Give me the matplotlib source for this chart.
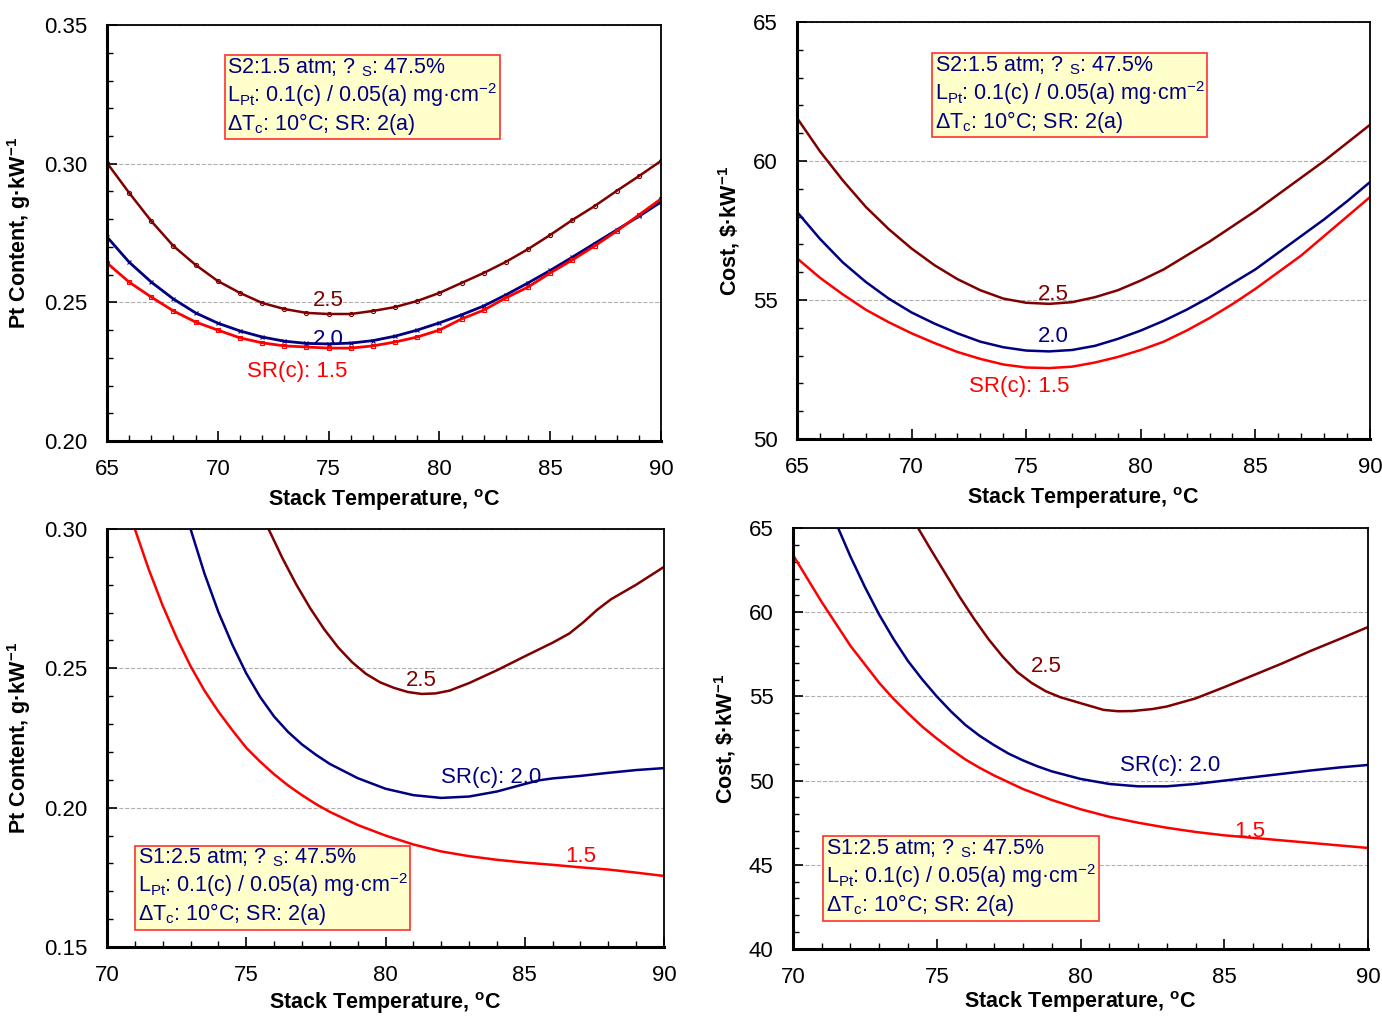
import numpy as np
import matplotlib.pyplot as plt
from matplotlib.ticker import MultipleLocator, FormatStrFormatter

plt.rcParams['font.family'] = ['Liberation Sans', 'DejaVu Sans']
plt.rcParams['mathtext.default'] = 'regular'

DARK = '#800000'
BLUE = '#000080'
RED = '#ff0000'

# --- top left: Pt content, S2 (data points at every degree)
tl_temp = list(range(65, 91))
tl_sr25 = [0.3003, 0.2895, 0.2793, 0.2703, 0.2635, 0.2577, 0.2534, 0.2498, 0.2476,
           0.2462, 0.2458, 0.2458, 0.2469, 0.2483, 0.2505, 0.2534, 0.2570, 0.2606,
           0.2646, 0.2692, 0.2743, 0.2797, 0.2847, 0.2902, 0.2955, 0.3010]
tl_sr20 = [0.2736, 0.2645, 0.2573, 0.2512, 0.2462, 0.2425, 0.2397, 0.2375, 0.2360,
           0.2352, 0.2350, 0.2353, 0.2362, 0.2378, 0.2400, 0.2426, 0.2455, 0.2487,
           0.2527, 0.2570, 0.2615, 0.2663, 0.2712, 0.2761, 0.2810, 0.2862]
tl_sr15 = [0.2642, 0.2573, 0.2519, 0.2469, 0.2429, 0.2400, 0.2372, 0.2354, 0.2343,
           0.2339, 0.2335, 0.2335, 0.2343, 0.2357, 0.2375, 0.2400, 0.2440, 0.2472,
           0.2516, 0.2555, 0.2606, 0.2653, 0.2703, 0.2757, 0.2815, 0.2873]

# --- top right: cost, S2
tr_temp = list(range(65, 91))
tr_sr25 = [61.55, 60.35, 59.3, 58.35, 57.55, 56.85, 56.25, 55.75, 55.35, 55.05, 54.9, 54.86,
           54.92, 55.1, 55.35, 55.7, 56.1, 56.6, 57.1, 57.65, 58.2, 58.8, 59.4, 60.0,
           60.65, 61.3]
tr_sr20 = [58.17, 57.2, 56.35, 55.65, 55.05, 54.55, 54.15, 53.8, 53.5, 53.3, 53.18, 53.15,
           53.2, 53.35, 53.6, 53.9, 54.25, 54.65, 55.1, 55.6, 56.1, 56.7, 57.3, 57.9,
           58.55, 59.24]
tr_sr15 = [56.5, 55.8, 55.2, 54.65, 54.2, 53.8, 53.45, 53.13, 52.88, 52.68, 52.57, 52.55,
           52.6, 52.75, 52.95, 53.2, 53.5, 53.9, 54.35, 54.85, 55.4, 56.0, 56.6, 57.3,
           58.0, 58.7]

# --- bottom left: Pt content, S1
bl_t25 = [75.8, 76.3, 76.8, 77.3, 77.8, 78.3, 78.8, 79.3, 79.8, 80.3, 80.8, 81.3, 81.8,
          82.3, 83, 84, 85, 86, 86.6, 87.1, 87.6, 88.1, 89, 90]
bl_sr25 = [0.300, 0.2895, 0.2800, 0.2715, 0.2640, 0.2575, 0.2522, 0.2480, 0.2450, 0.2430,
           0.2415, 0.2408, 0.2410, 0.2420, 0.2447, 0.2493, 0.2543, 0.2592, 0.2625, 0.2665,
           0.2710, 0.2748, 0.2800, 0.2864]
bl_t20 = [73.0, 73.5, 74.0, 74.5, 75.0, 75.5, 76, 76.5, 77, 77.5, 78, 79, 80, 81, 82, 83,
          84, 85, 85.5, 86, 87, 88, 89, 90]
bl_sr20 = [0.300, 0.2840, 0.2702, 0.2585, 0.2482, 0.2397, 0.2327, 0.2272, 0.2227, 0.2190,
           0.2157, 0.2106, 0.2068, 0.2045, 0.2035, 0.2040, 0.2058, 0.2085, 0.2098, 0.2105,
           0.2114, 0.2125, 0.2135, 0.2142]
bl_t15 = [71.0, 71.5, 72.0, 72.5, 73.0, 73.5, 74.0, 74.5, 75, 75.5, 76, 76.5, 77, 77.5, 78,
          79, 80, 81, 82, 83, 84, 85, 86, 87, 88, 89, 90]
bl_sr15 = [0.300, 0.2855, 0.2725, 0.2610, 0.2508, 0.2420, 0.2345, 0.2278, 0.2215, 0.2165,
           0.2120, 0.2080, 0.2045, 0.2013, 0.1985, 0.1938, 0.1900, 0.1868, 0.1843, 0.1826,
           0.1813, 0.1803, 0.1795, 0.1786, 0.1778, 0.1767, 0.1755]

# --- bottom right: cost, S1
br_t25 = [74.35, 74.8, 75.3, 75.8, 76.3, 76.8, 77.3, 77.8, 78.3, 78.8, 79.3, 79.8, 80.3,
          80.8, 81.3, 81.8, 82.5, 83, 84, 85, 86, 87, 88, 89, 90]
br_sr25 = [65.0, 63.7, 62.3, 60.9, 59.6, 58.4, 57.35, 56.45, 55.8, 55.3, 54.95, 54.7,
           54.45, 54.2, 54.12, 54.13, 54.25, 54.4, 54.88, 55.55, 56.25, 56.95, 57.7,
           58.4, 59.12]
br_t20 = [71.57, 72.0, 72.5, 73.0, 73.5, 74, 74.5, 75, 75.5, 76, 76.5, 77, 77.5, 78, 78.5,
          79, 80, 81, 82, 83, 84, 85, 86, 87, 88, 89, 90]
br_sr20 = [65.0, 63.3, 61.5, 59.85, 58.4, 57.1, 56.0, 55.0, 54.1, 53.3, 52.65, 52.1, 51.6,
           51.2, 50.85, 50.55, 50.1, 49.8, 49.66, 49.66, 49.8, 50.0, 50.2, 50.4, 50.6,
           50.78, 50.93]
br_t15 = [70, 70.5, 71, 71.5, 72, 72.5, 73, 73.5, 74, 74.5, 75, 75.5, 76, 76.5, 77, 77.5,
          78, 79, 80, 81, 82, 83, 84, 85, 86, 87, 88, 89, 90]
br_sr15 = [63.4, 62.0, 60.6, 59.3, 58.0, 56.9, 55.8, 54.85, 54.0, 53.2, 52.5, 51.85, 51.25,
           50.75, 50.3, 49.9, 49.5, 48.85, 48.3, 47.85, 47.5, 47.2, 46.95, 46.75, 46.6,
           46.45, 46.3, 46.15, 46.0]

box_s2 = ('S2:1.5 atm; ? $_{S}$: 47.5%\n'
          'L$_{Pt}$: 0.1(c) / 0.05(a) mg·cm$^{-2}$\n'
          'ΔT$_{c}$: 10°C; SR: 2(a)')
box_s1 = box_s2.replace('S2:1.5', 'S1:2.5')

FS = 16


def style_axes(ax, xlim, ylim, xmaj, ymaj, ymin, yfmt, ylabel, xpad=5):
    ax.set_xlim(*xlim)
    ax.set_ylim(*ylim)
    ax.xaxis.set_major_locator(MultipleLocator(xmaj))
    ax.xaxis.set_minor_locator(MultipleLocator(1))
    ax.yaxis.set_major_locator(MultipleLocator(ymaj))
    ax.yaxis.set_minor_locator(MultipleLocator(ymin))
    ax.yaxis.set_major_formatter(FormatStrFormatter(yfmt))
    ax.tick_params(which='both', direction='in', top=False, right=False, labelsize=FS)
    ax.tick_params(which='major', length=7, width=1.2)
    ax.tick_params(which='minor', length=4, width=1.0)
    ax.tick_params(axis='x', pad=13)
    ax.tick_params(axis='y', pad=14)
    ax.yaxis.grid(True, which='major', linestyle='--', color='#b0b0b0', linewidth=0.8)
    ax.set_axisbelow(True)
    for s in ['left', 'bottom']:
        ax.spines[s].set_linewidth(2.2)
    for s in ['top', 'right']:
        ax.spines[s].set_linewidth(1.3)
    ax.set_xlabel('Stack Temperature, $^{o}$C', fontsize=15.5, fontweight='bold', labelpad=xpad)
    ax.set_ylabel(ylabel, fontsize=15.5, fontweight='bold', labelpad=8)


def add_box(ax, x, y, txt):
    ax.text(x, y, txt, transform=ax.transAxes, fontsize=15.5, color=BLUE,
            va='top', ha='left', linespacing=1.1,
            bbox=dict(boxstyle='square,pad=0.12', facecolor='#ffffcc', edgecolor='#ff3030', linewidth=1.2))


def label(ax, x, y, txt, color):
    ax.text(x, y, txt, color=color, fontsize=FS, ha='center', va='center')


fig = plt.figure(figsize=(13.82, 10.18), dpi=100)
ax1 = fig.add_axes([0.0774, 0.5668, 0.4009, 0.4086])
ax2 = fig.add_axes([0.5767, 0.5688, 0.4146, 0.4096])
ax3 = fig.add_axes([0.0774, 0.0697, 0.4031, 0.4107])
ax4 = fig.add_axes([0.5738, 0.0678, 0.4161, 0.4135])

pt_label = 'Pt Content, g·kW$^{-1}$'
cost_label = 'Cost, \\$·kW$^{-1}$'

# top left
ax1.plot(tl_temp, tl_sr25, color=DARK, lw=1.8, marker='o', ms=3, mfc='none', mew=0.8)
ax1.plot(tl_temp, tl_sr20, color=BLUE, lw=2.0, marker='x', ms=3.5, mew=0.8)
ax1.plot(tl_temp, tl_sr15, color=RED, lw=2.0, marker='s', ms=3.5, mfc='none', mew=0.8)
style_axes(ax1, (65, 90), (0.20, 0.35), 5, 0.05, 0.01, '%.2f', pt_label)
label(ax1, 75.0, 0.2505, '2.5', DARK)
label(ax1, 75.0, 0.2365, '2.0', BLUE)
label(ax1, 73.6, 0.2250, 'SR(c): 1.5', RED)
add_box(ax1, 0.217, 0.925, box_s2)

# top right
ax2.plot(tr_temp, tr_sr25, color=DARK, lw=1.8)
ax2.plot(tr_temp, tr_sr20, color=BLUE, lw=1.8)
ax2.plot(tr_temp, tr_sr15, color=RED, lw=1.8)
style_axes(ax2, (65, 90), (50, 65), 5, 5, 1, '%d', cost_label)
label(ax2, 76.2, 55.2, '2.5', DARK)
label(ax2, 76.2, 53.7, '2.0', BLUE)
label(ax2, 74.7, 51.9, 'SR(c): 1.5', RED)
add_box(ax2, 0.24, 0.923, box_s2)

# bottom left
ax3.plot(bl_t25, bl_sr25, color=DARK, lw=1.8)
ax3.plot(bl_t20, bl_sr20, color=BLUE, lw=1.8)
ax3.plot(bl_t15, bl_sr15, color=RED, lw=1.8)
style_axes(ax3, (70, 90), (0.15, 0.30), 5, 0.05, 0.01, '%.2f', pt_label, xpad=3)
label(ax3, 81.3, 0.2455, '2.5', DARK)
label(ax3, 83.8, 0.2110, 'SR(c): 2.0', BLUE)
label(ax3, 87.0, 0.1825, '1.5', RED)
add_box(ax3, 0.055, 0.24, box_s1)

# bottom right
ax4.plot(br_t25, br_sr25, color=DARK, lw=1.8)
ax4.plot(br_t20, br_sr20, color=BLUE, lw=1.8)
ax4.plot(br_t15, br_sr15, color=RED, lw=1.8)
style_axes(ax4, (70, 90), (40, 65), 5, 5, 1, '%d', cost_label, xpad=1)
label(ax4, 78.8, 56.8, '2.5', DARK)
label(ax4, 83.1, 50.9, 'SR(c): 2.0', BLUE)
label(ax4, 85.9, 47.0, '1.5', RED)
add_box(ax4, 0.057, 0.265, box_s1)

fig.savefig('out.png', dpi=100)
